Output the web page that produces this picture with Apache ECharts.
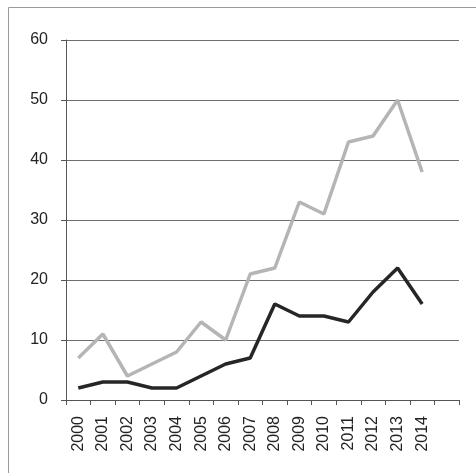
<!DOCTYPE html>
<html>
<head>
<meta charset="utf-8">
<script src="https://cdn.jsdelivr.net/npm/echarts@6/dist/echarts.min.js"></script>
<style>html,body{margin:0;padding:0;background:#fff;}#c{width:476px;height:473px;}</style>
</head>
<body>
<div id="c"></div>
<script>
var years = ['2000','2001','2002','2003','2004','2005','2006','2007','2008','2009','2010','2011','2012','2013','2014',''];
var seriesLight = [7, 11, 4, 6, 8, 13, 10, 21, 22, 33, 31, 43, 44, 50, 38];
var seriesDark = [2, 3, 3, 2, 2, 4, 6, 7, 16, 14, 14, 13, 18, 22, 16];
var yTicks = [0, 10, 20, 30, 40, 50, 60];

var chart = echarts.init(document.getElementById('c'), null, {renderer: 'canvas'});
chart.setOption({
  backgroundColor: '#ffffff',
  animation: false,
  graphic: [{
    type: 'rect',
    shape: {x: 8.5, y: 7.5, width: 470, height: 470},
    style: {fill: 'none', stroke: '#9a9a9a', lineWidth: 1}
  }],
  grid: {left: 66, top: 40, right: 17, bottom: 73, containLabel: false},
  xAxis: {
    type: 'category',
    data: years,
    boundaryGap: true,
    axisLine: {show: true, lineStyle: {color: '#555', width: 1}},
    axisTick: {show: true, length: 5, interval: 0, lineStyle: {color: '#555'}},
    axisLabel: {interval: 0, rotate: 90, margin: 16, color: '#222', fontSize: 16, fontFamily: 'Liberation Sans'},
    splitLine: {show: false}
  },
  yAxis: {
    type: 'value',
    min: yTicks[0],
    max: yTicks[yTicks.length - 1],
    interval: 10,
    axisLine: {show: true, lineStyle: {color: '#555', width: 1}},
    axisTick: {show: true, length: 5, lineStyle: {color: '#555'}},
    axisLabel: {margin: 18, color: '#222', fontSize: 16, fontFamily: 'Liberation Sans'},
    splitLine: {show: true, lineStyle: {color: '#6f6f6f', width: 1}}
  },
  series: [
    {
      type: 'line',
      data: seriesLight,
      symbol: 'none',
      lineStyle: {color: '#b5b5b5', width: 3.5},
      itemStyle: {color: '#b5b5b5'}
    },
    {
      type: 'line',
      data: seriesDark,
      symbol: 'none',
      lineStyle: {color: '#262626', width: 3.5},
      itemStyle: {color: '#262626'}
    }
  ]
});
</script>
</body>
</html>
